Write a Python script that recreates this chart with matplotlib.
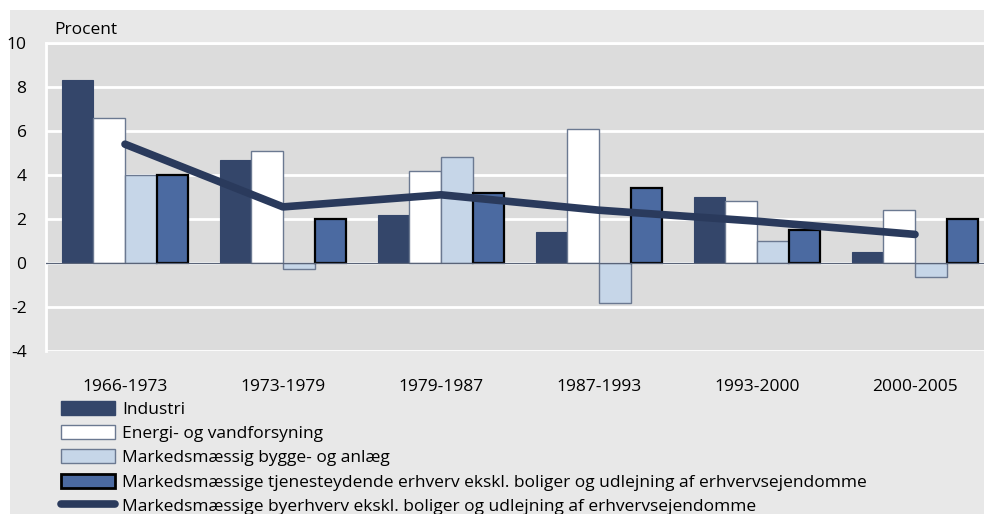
import numpy as np
import matplotlib.pyplot as plt
from matplotlib.lines import Line2D
from matplotlib.patches import Patch

plt.rcParams['font.family'] = ['Open Sans', 'DejaVu Sans']
plt.rcParams['axes.unicode_minus'] = False

periods = ["1966-1973", "1973-1979", "1979-1987", "1987-1993", "1993-2000", "2000-2005"]
industri = [8.3, 4.7, 2.2, 1.4, 3.0, 0.5]
energi = [6.6, 5.1, 4.2, 6.1, 2.8, 2.4]
bygge = [4.0, -0.25, 4.8, -1.8, 1.0, -0.65]
tjeneste = [4.0, 2.0, 3.2, 3.4, 1.5, 2.0]
byerhverv = [5.4, 2.55, 3.1, 2.4, 1.9, 1.3]

labels = ["Industri",
          "Energi- og vandforsyning",
          "Markedsmæssig bygge- og anlæg",
          "Markedsmæssige tjenesteydende erhverv ekskl. boliger og udlejning af erhvervsejendomme",
          "Markedsmæssige byerhverv ekskl. boliger og udlejning af erhvervsejendomme"]

c_ind = "#34466a"
c_bygge = "#c6d6e8"
c_tj = "#4b6aa1"
c_line = "#2a3a5c"
c_edge = "#6b7991"
fs = 12.5

fig = plt.figure(figsize=(9.84, 5.14), dpi=100)
fig.patch.set_facecolor("white")
# outer grey panel
fig.patches.append(plt.Rectangle((10/984, 0), 1, 1 - 10/514, transform=fig.transFigure,
                                 facecolor="#e8e8e8", edgecolor="none", zorder=-1))

ax = fig.add_axes([46/984, 1 - 351/514, 1 - 46/984, 308/514])
ax.set_facecolor("#dcdcdc")

x = np.arange(len(periods))
w = 0.2
ax.bar(x - 1.5*w, industri, w, color=c_ind, edgecolor=c_ind, linewidth=0.8, zorder=3)
ax.bar(x - 0.5*w, energi, w, color="white", edgecolor=c_edge, linewidth=1.0, zorder=3)
ax.bar(x + 0.5*w, bygge, w, color=c_bygge, edgecolor=c_edge, linewidth=1.0, zorder=3)
ax.bar(x + 1.5*w, tjeneste, w, color=c_tj, edgecolor="black", linewidth=1.6, zorder=3)
ax.plot(x, byerhverv, color=c_line, linewidth=5.5, solid_capstyle="round", zorder=4)
ax.axhline(0, color="#5a6478", linewidth=0.9, zorder=3.5)

ax.set_ylim(-4, 10)
ax.set_yticks(range(-4, 11, 2))
ax.set_xlim(-0.5, 5.5 - 10/158)
ax.set_xticks(x)
ax.set_xticklabels(periods, fontsize=fs)
ax.tick_params(axis="both", length=0, labelsize=fs)
ax.tick_params(axis="x", pad=20)
ax.tick_params(axis="y", pad=14)
ax.grid(axis="y", color="white", linewidth=2, zorder=1)
for s in ["right", "bottom"]:
    ax.spines[s].set_visible(False)
for s in ["left", "top"]:
    ax.spines[s].set_color("white")
    ax.spines[s].set_linewidth(2)

fig.text(54/984, 1 - 30/514, "Procent", fontsize=fs, va="center", ha="left")

handles = [Patch(facecolor=c_ind, edgecolor=c_ind),
           Patch(facecolor="white", edgecolor=c_edge),
           Patch(facecolor=c_bygge, edgecolor=c_edge),
           Patch(facecolor=c_tj, edgecolor="black", linewidth=2),
           Line2D([0], [0], color=c_line, linewidth=5.5, solid_capstyle="round")]
fig.legend(handles, labels, loc="upper left", bbox_to_anchor=(61/984, 1 - 401/514),
           frameon=False, fontsize=fs, handlelength=3.1, handleheight=0.85,
           handletextpad=0.4, labelspacing=0.42, borderaxespad=0, borderpad=0)

fig.savefig("out.png", dpi=100, facecolor=fig.get_facecolor())
